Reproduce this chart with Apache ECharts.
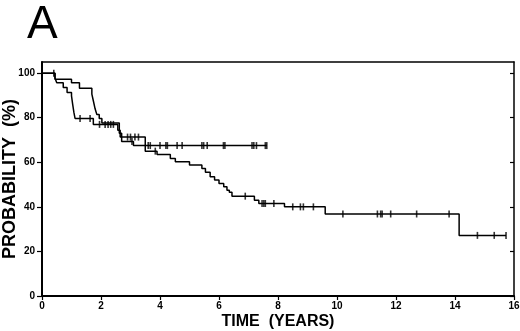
<!DOCTYPE html>
<html>
<head>
<meta charset="utf-8">
<script src="https://cdn.jsdelivr.net/npm/echarts@6/dist/echarts.min.js"></script>
<style>
  html, body { margin: 0; padding: 0; background: #fff; }
  #chart-container { width: 520px; height: 331px; }
</style>
</head>
<body>
<div id="chart-container"></div>
<script>
// group with the early drop and the plateau near 67%
const shortTime = [0, 0.44, 0.5, 0.72, 0.85, 1.0, 1.04, 1.08, 1.12, 1.74, 2.57, 2.65, 3.5, 7.62];
const shortSurv = [100, 97.8, 95.7, 93.6, 91.3, 89.8, 86, 82.5, 79.7, 77.0, 74.4, 71.3, 67.5, 67.5];
const shortCensor = [1.29, 1.63, 1.95, 2.14, 2.24, 2.33, 2.42, 2.9, 3.0, 3.15, 3.27, 3.6, 3.67, 4.0, 4.2, 4.25,
  4.58, 4.75, 5.42, 5.48, 5.6, 6.15, 6.2, 7.12, 7.18, 7.27, 7.57, 7.62];

// group followed out to 16 years
const longTime = [0, 0.44, 1.0, 1.27, 1.69, 1.74, 1.8, 1.86, 1.94, 2.03, 2.62, 2.7, 3.1, 3.5, 3.9, 4.35, 4.52,
  5.0, 5.42, 5.54, 5.7, 5.85, 6.0, 6.16, 6.27, 6.35, 6.44, 7.2, 7.35, 8.22, 9.6, 14.14, 15.73];
const longSurv = [100, 97.3, 95.7, 93.2, 90.6, 87.6, 84, 81.4, 79.7, 77.6, 73, 69.3, 67.5, 65.0, 63.5, 61.7, 60.2,
  58.8, 57.2, 55.5, 53.5, 52, 50.5, 49, 47.5, 46.5, 44.8, 43, 41.5, 40, 36.8, 27.2, 27.2];
const longCensor = [0.4, 3.05, 3.84, 6.89, 7.46, 7.52, 7.57, 7.86, 8.5, 8.76, 8.86, 9.2, 10.2, 11.37, 11.48,
  11.53, 11.82, 12.7, 13.8, 14.76, 15.33, 15.73];

const xTicks = [0, 2, 4, 6, 8, 10, 12, 14, 16];
const yTicks = [0, 20, 40, 60, 80, 100];

const FONT = 'Liberation Sans, Arial, Helvetica, sans-serif';

function pairs(ts, vs) {
  return ts.map((t, i) => [t, vs[i]]);
}
// survival value of a step curve at time t
function survAt(ts, vs, t) {
  let v = vs[0];
  for (let i = 0; i < ts.length; i++) {
    if (ts[i] <= t) v = vs[i];
  }
  return v;
}
function censorPoints(cs, ts, vs) {
  return cs.map(t => [t, survAt(ts, vs, t)]);
}

const chart = echarts.init(document.getElementById('chart-container'));

const stepLine = (data) => ({
  type: 'line', step: 'end', data: data, showSymbol: false, symbol: 'none',
  lineStyle: { color: '#000', width: 1.5 }, silent: true
});
const censorMarks = (data) => ({
  type: 'scatter', data: data, symbol: 'rect', symbolSize: [1.6, 7],
  itemStyle: { color: '#000' }, silent: true
});

chart.setOption({
  animation: false,
  backgroundColor: '#fff',
  graphic: [{
    type: 'text', left: 27, top: 2,
    style: { text: 'A', font: 'normal 46px ' + FONT, fill: '#000' }
  }],
  grid: { left: 42, right: 6, top: 62, bottom: 35, outerBoundsMode: 'none', containLabel: false },
  xAxis: [{
    type: 'value', min: 0, max: 16, interval: 2,
    name: 'TIME  (YEARS)', nameLocation: 'middle', nameGap: 18, nameMoveOverlap: false,
    nameTextStyle: { fontFamily: FONT, fontWeight: 'bold', fontSize: 16, color: '#000' },
    axisLine: { show: true, onZero: false, lineStyle: { color: '#000', width: 2 } },
    axisTick: { show: true, length: 4, lineStyle: { color: '#000', width: 1.2 } },
    axisLabel: { margin: 5, fontFamily: FONT, fontWeight: 'bold', fontSize: 10, color: '#000',
      customValues: xTicks },
    splitLine: { show: false }
  }, {
    type: 'value', position: 'top', min: 0, max: 16,
    axisLine: { show: true, onZero: false, lineStyle: { color: '#000', width: 1.5 } },
    axisTick: { show: false }, axisLabel: { show: false }, splitLine: { show: false }
  }],
  yAxis: [{
    type: 'value', min: 0, max: 105, interval: 20,
    name: 'PROBABILITY  (%)', nameLocation: 'middle', nameGap: 23, nameMoveOverlap: false,
    nameTextStyle: { fontFamily: FONT, fontWeight: 'bold', fontSize: 18, color: '#000' },
    axisLine: { show: true, onZero: false, lineStyle: { color: '#000', width: 2 } },
    axisTick: { show: true, length: 5, customValues: yTicks, lineStyle: { color: '#000', width: 1.2 } },
    axisLabel: { margin: 7, fontFamily: FONT, fontWeight: 'bold', fontSize: 10, color: '#000',
      customValues: yTicks },
    splitLine: { show: false }
  }, {
    type: 'value', position: 'right', min: 0, max: 105,
    axisLine: { show: true, onZero: false, lineStyle: { color: '#000', width: 1.5 } },
    axisTick: { show: true, inside: true, length: 4, customValues: yTicks, lineStyle: { color: '#000', width: 1.2 } },
    axisLabel: { show: false }, splitLine: { show: false }
  }],
  series: [
    stepLine(pairs(shortTime, shortSurv)),
    stepLine(pairs(longTime, longSurv)),
    censorMarks(censorPoints(shortCensor, shortTime, shortSurv)),
    censorMarks(censorPoints(longCensor, longTime, longSurv))
  ]
});
</script>
</body>
</html>
